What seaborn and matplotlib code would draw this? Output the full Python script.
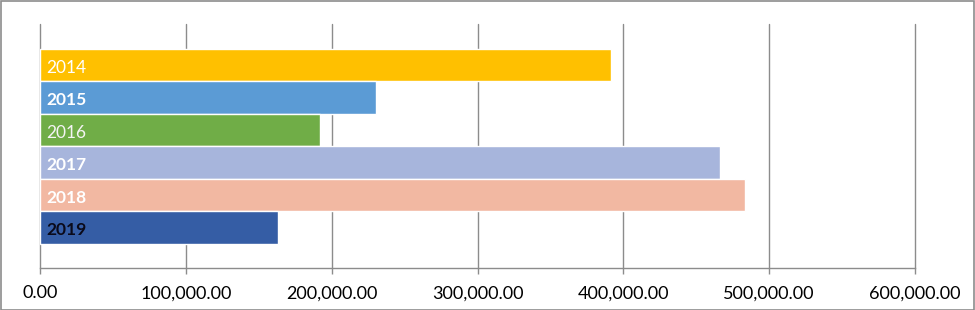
import pandas as pd
import seaborn as sns
import matplotlib.pyplot as plt
from matplotlib.patches import Rectangle
from matplotlib.ticker import FuncFormatter

years = ['2014', '2015', '2016', '2017', '2018', '2019']
values = [391600, 230400, 192000, 466400, 483500, 163200]
bar_colors = ['#FFC000', '#5B9BD5', '#70AD47', '#A7B5DC', '#F2B8A2', '#355DA5']
label_colors = ['white', 'white', '#F4F4F4', 'white', 'white', '#0A0A1A']
label_weights = ['normal', 'bold', 'normal', 'bold', 'bold', 'bold']

df = pd.DataFrame({'year': years, 'value': values})

sns.set_style('white')
plt.rcParams['font.family'] = ['Lato', 'DejaVu Sans']

fig = plt.figure(figsize=(9.75, 3.1), dpi=100)
ax = fig.add_axes([40 / 975, 42 / 310, 875 / 975, 244 / 310])

sns.barplot(data=df, x='value', y='year', hue='year', palette=dict(zip(years, bar_colors)),
            orient='h', width=1.0, legend=False, saturation=1, ax=ax)

ax.set_xlim(0, 600000)
ax.set_ylim(6.25, -1.27)
ax.set_xticks(range(0, 600001, 100000))
ax.xaxis.set_major_formatter(FuncFormatter(lambda v, p: f'{v:,.2f}'))
ax.set_yticks([])
ax.set_xlabel('')
ax.set_ylabel('')

ax.grid(axis='x', color='#8c8c8c', linewidth=1)
ax.set_axisbelow(True)
for line in ax.get_xgridlines():
    line.set_clip_on(False)
for side in ['top', 'right', 'left']:
    ax.spines[side].set_visible(False)
ax.spines['bottom'].set_color('#8c8c8c')
ax.spines['bottom'].set_linewidth(1)
ax.tick_params(axis='x', length=4.5, width=1, color='#8c8c8c', pad=8,
               labelsize=13, labelcolor='black', bottom=True)

for i, yr in enumerate(years):
    ax.text(4200, i + 0.08, yr, color=label_colors[i], fontweight=label_weights[i],
            fontsize=12.5, va='center', ha='left')

fig.patches.append(Rectangle((0.5 / 975, 0.5 / 310), 973.5 / 975, 308.5 / 310,
                             transform=fig.transFigure, fill=False,
                             edgecolor='#8c8c8c', linewidth=1.2))

plt.savefig('out.png', dpi=100)
plt.close()
